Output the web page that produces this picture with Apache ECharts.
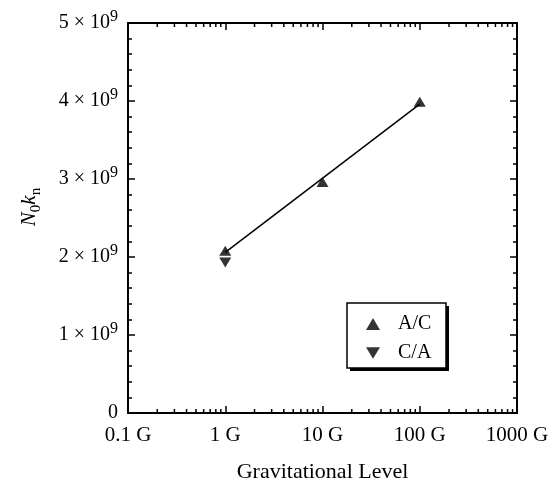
<!DOCTYPE html>
<html>
<head>
<meta charset="utf-8">
<script src="https://cdn.jsdelivr.net/npm/echarts@6/dist/echarts.min.js"></script>
<style>html,body{margin:0;padding:0;background:#fff;}#c{width:555px;height:481px;}</style>
</head>
<body>
<div id="c"></div>
<script>
// ---- data ----
const xTickValues = [0.1, 1, 10, 100, 1000];
const xTickLabels = ['0.1 G', '1 G', '10 G', '100 G', '1000 G'];
const yTickMantissa = ['0', '1', '2', '3', '4', '5'];
const acX = [1, 10, 100];
const acY = [2.08e9, 2.96e9, 3.99e9];
const caX = [1];
const caY = [1.93e9];
const fitX = [1, 100];
const fitY = [2.06e9, 3.96e9];

const FONT = '"Liberation Serif", "Times New Roman", serif';

// minor tick positions for the log axis (2..9 per decade)
const minorX = [];
for (let d = 0; d < xTickValues.length - 1; d++) {
  for (let k = 2; k <= 9; k++) minorX.push([xTickValues[d] * k, 0]);
}

const chart = echarts.init(document.getElementById('c'), null, {renderer: 'canvas'});

function xLabel(v) {
  const i = Math.round(Math.log10(v)) + 1;
  return xTickLabels[i] !== undefined ? xTickLabels[i] : '';
}
function yLabel(v) {
  const i = Math.round(v / 1e9);
  if (i === 0) return '{m|0}';
  return '{m|' + yTickMantissa[i] + ' × 10}{s|9}';
}

const axisCommon = {
  axisLine: {show: true, onZero: false, lineStyle: {color: '#000', width: 2}},
  axisTick: {show: true, inside: true, length: 7, lineStyle: {color: '#000', width: 1.5}},
  splitLine: {show: false}
};

const option = {
  animation: false,
  backgroundColor: '#fff',
  grid: {left: 128, right: 38, top: 23, bottom: 68, containLabel: false, outerBoundsMode: 'none'},
  graphic: [
    {type: 'rect', z: 1, shape: {x: 350, y: 306, width: 99, height: 65}, style: {fill: '#000'}, silent: true},
    {type: 'rect', z: 2, shape: {x: 347, y: 303, width: 99, height: 65}, style: {fill: '#fff', stroke: '#000', lineWidth: 1.5}, silent: true}
  ],
  xAxis: [
    Object.assign({
      type: 'log', logBase: 10, min: 0.1, max: 1000, position: 'bottom',
      name: 'Gravitational Level', nameLocation: 'middle', nameGap: 48,
      nameTextStyle: {fontFamily: FONT, fontSize: 22, color: '#000'},
      axisLabel: {formatter: xLabel, fontFamily: FONT, fontSize: 21, color: '#000', margin: 12}
    }, axisCommon),
    Object.assign({
      type: 'log', logBase: 10, min: 0.1, max: 1000, position: 'top',
      axisLabel: {show: false}
    }, axisCommon)
  ],
  yAxis: [
    Object.assign({
      type: 'value', min: 0, max: 5e9, interval: 1e9, position: 'left',
      minorTick: {show: true, splitNumber: 5, length: 4, lineStyle: {color: '#000', width: 1.5}},
      name: '{i|N}{sub|0}{i|k}{sub|n}', nameLocation: 'middle', nameGap: 84, nameRotate: 90,
      nameTextStyle: {
        color: '#000', padding: [0, 0, 0, 22],
        rich: {
          i: {fontFamily: FONT, fontStyle: 'italic', fontSize: 21, color: '#000'},
          sub: {fontFamily: FONT, fontSize: 15, color: '#000', verticalAlign: 'bottom', lineHeight: 30}
        }
      },
      axisLabel: {
        formatter: yLabel, margin: 10,
        rich: {
          m: {fontFamily: FONT, fontSize: 20, color: '#000'},
          s: {fontFamily: FONT, fontSize: 16, color: '#000', verticalAlign: 'top', lineHeight: 28}
        }
      }
    }, axisCommon),
    Object.assign({
      type: 'value', min: 0, max: 5e9, interval: 1e9, position: 'right',
      minorTick: {show: true, splitNumber: 5, length: 4, lineStyle: {color: '#000', width: 1.5}},
      axisLabel: {show: false}
    }, axisCommon)
  ],
  legend: {
    data: ['A/C', 'C/A'],
    orient: 'vertical',
    left: 347, top: 303,
    z: 10,
    padding: [11, 0, 0, 19],
    itemGap: 9,
    itemWidth: 14, itemHeight: 12,
    textStyle: {fontFamily: FONT, fontSize: 20, color: '#000', padding: [0, 0, 0, 13]},
    selectedMode: false
  },
  series: [
    {
      name: 'fit', type: 'line', xAxisIndex: 0, yAxisIndex: 0,
      data: fitX.map((x, i) => [x, fitY[i]]),
      symbol: 'none', lineStyle: {color: '#000', width: 1.5}, silent: true, z: 2
    },
    {
      name: 'A/C', type: 'scatter', xAxisIndex: 0, yAxisIndex: 0,
      data: acX.map((x, i) => [x, acY[i]]),
      symbol: 'triangle', symbolSize: [12, 10],
      itemStyle: {color: '#000'}, z: 3
    },
    {
      name: 'C/A', type: 'scatter', xAxisIndex: 0, yAxisIndex: 0,
      data: caX.map((x, i) => [x, caY[i]]),
      symbol: 'path://M0,0 L12,0 L6,10 Z', symbolSize: [12, 10],
      itemStyle: {color: '#000'}, z: 3
    },
    {
      name: 'minorTicks', type: 'custom', xAxisIndex: 0, yAxisIndex: 0,
      data: minorX, silent: true, z: 5,
      renderItem: function (params, api) {
        const x = api.value(0);
        const pb = api.coord([x, 0]);
        const pt = api.coord([x, 5e9]);
        const st = {stroke: '#000', lineWidth: 1.5};
        return {
          type: 'group',
          children: [
            {type: 'line', shape: {x1: pb[0], y1: pb[1], x2: pb[0], y2: pb[1] - 4}, style: st},
            {type: 'line', shape: {x1: pt[0], y1: pt[1], x2: pt[0], y2: pt[1] + 4}, style: st}
          ]
        };
      }
    }
  ]
};
chart.setOption(option);
</script>
</body>
</html>
